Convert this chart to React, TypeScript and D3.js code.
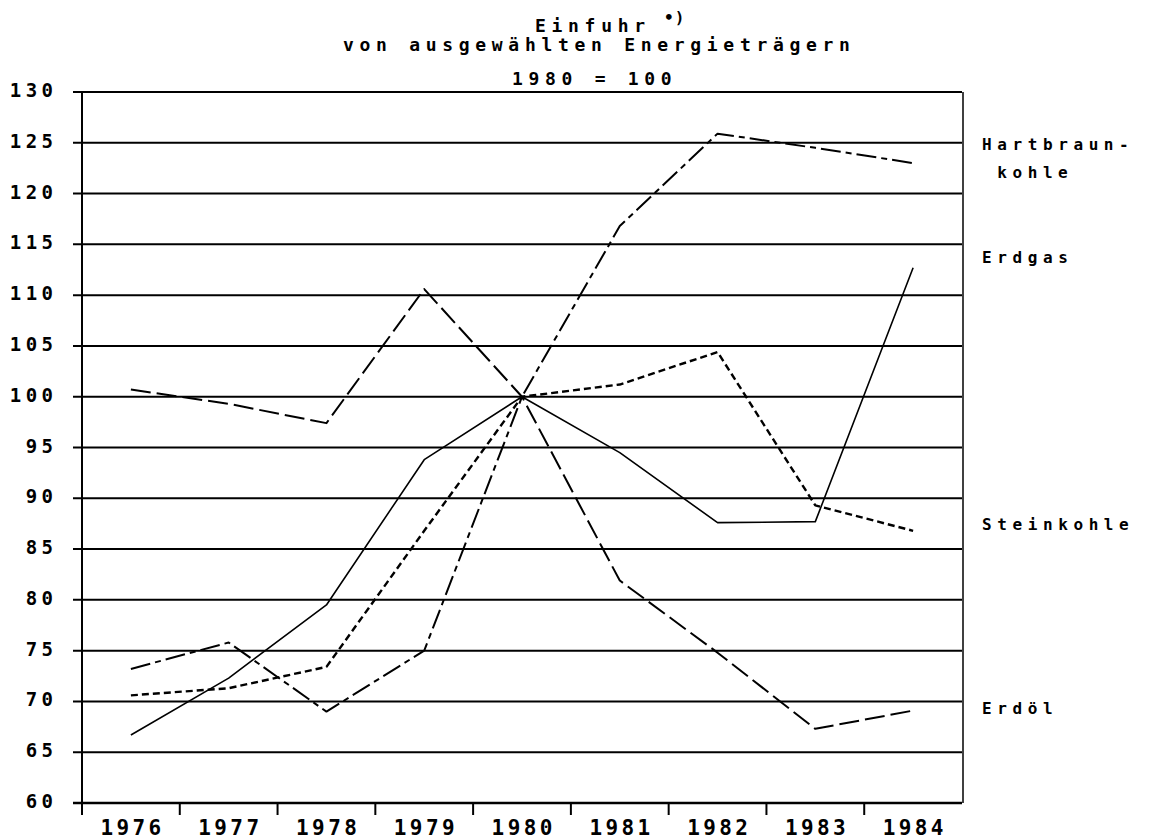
import React from "react";
import * as d3 from "d3";

// ---- data ----
const years = ["1976", "1977", "1978", "1979", "1980", "1981", "1982", "1983", "1984"];
const erdgas = [66.7, 72.3, 79.5, 93.8, 100, 94.5, 87.6, 87.7, 112.7];
const steinkohle = [70.6, 71.3, 73.4, 86.8, 100, 101.2, 104.4, 89.3, 86.8];
const erdoel = [100.7, 99.3, 97.4, 110.6, 100, 81.9, 74.8, 67.3, 69.1];
const hartbraunkohle = [73.2, 75.8, 69.0, 75.0, 100, 116.8, 125.9, 124.5, 123.0];
const yTicks = [60, 65, 70, 75, 80, 85, 90, 95, 100, 105, 110, 115, 120, 125, 130];
const titleLines = ["Einfuhr", "von ausgewählten Energieträgern", "1980 = 100"];
const footnoteMark = "•)";
// right-hand labels: text and the value level they sit at
const seriesLabels = [
  { text: "Hartbraun-", at: 124.3, indent: 0 },
  { text: "kohle", at: 121.5, indent: 1 },
  { text: "Erdgas", at: 113.2, indent: 0 },
  { text: "Steinkohle", at: 86.9, indent: 0 },
  { text: "Erdöl", at: 68.8, indent: 0 },
];

const series = [
  { name: "Erdgas", values: erdgas, dash: "none", width: 1.6 },
  { name: "Steinkohle", values: steinkohle, dash: "7,4", width: 2.4 },
  { name: "Erdöl", values: erdoel, dash: "20,6", width: 2 },
  { name: "Hartbraunkohle", values: hartbraunkohle, dash: "20,5,6,5", width: 2 },
];

const FONT = "'DejaVu Sans Mono', monospace";

export default function App() {
  const W = 1150;
  const H = 840;
  const left = 82;
  const right = 962;
  const top = 92;
  const bottom = 803;

  const x = d3.scalePoint<string>().domain(years).range([left, right]).padding(0.5);
  const y = d3.scaleLinear().domain([60, 130]).range([bottom, top]);
  const step = x.step();

  const line = d3
    .line<number>()
    .x((_, i) => x(years[i]) as number)
    .y((d) => y(d));

  const yLabelSpacing = 4.4;
  const xLabelSpacing = 3.4;
  const labelSpacing = 5.6;

  return (
    <svg
      width={W}
      height={H}
      style={{ position: "absolute", left: 0, top: 0, display: "block", background: "#fff" }}
    >
      <rect x={0} y={0} width={W} height={H} fill="#fff" />
      {/* title */}
      <g fontFamily={FONT} fontWeight="bold" fontSize={18} fill="#000" style={{ letterSpacing: "5.7px" }}>
        <text x={535} y={32}>{titleLines[0]}</text>
        <text x={664} y={23} fontSize={16} style={{ letterSpacing: "1px" }}>{footnoteMark}</text>
        <text x={343} y={51}>{titleLines[1]}</text>
        <text x={512} y={85}>{titleLines[2]}</text>
      </g>

      {/* gridlines and y ticks */}
      {yTicks.map((t) => (
        <line
          key={"g" + t}
          x1={left - 9}
          x2={right}
          y1={y(t)}
          y2={y(t)}
          stroke="#000"
          strokeWidth={t === 60 ? 2.6 : 2}
        />
      ))}
      {/* y axis */}
      <line x1={left} x2={left} y1={top} y2={bottom + 12} stroke="#000" strokeWidth={2} />
      {/* right border */}
      <line x1={right + 1} x2={right + 1} y1={top} y2={bottom} stroke="#000" strokeWidth={1.5} />
      {/* x ticks between years */}
      {years.slice(0, -1).map((yr) => (
        <line
          key={"xt" + yr}
          x1={(x(yr) as number) + step / 2}
          x2={(x(yr) as number) + step / 2}
          y1={bottom}
          y2={bottom + 12}
          stroke="#000"
          strokeWidth={2}
        />
      ))}

      {/* y labels */}
      <g fontFamily={FONT} fontWeight="bold" fontSize={19} fill="#000" style={{ letterSpacing: yLabelSpacing + "px" }}>
        {yTicks.map((t) => (
          <text key={"yl" + t} x={53 + yLabelSpacing} y={y(t) + 5} textAnchor="end">
            {t}
          </text>
        ))}
      </g>

      {/* x labels */}
      <g fontFamily={FONT} fontWeight="bold" fontSize={21} fill="#000" style={{ letterSpacing: xLabelSpacing + "px" }}>
        {years.map((yr) => (
          <text key={"xl" + yr} x={(x(yr) as number) + xLabelSpacing / 2} y={835} textAnchor="middle">
            {yr}
          </text>
        ))}
      </g>

      {/* series */}
      {series.map((s) => (
        <path
          key={s.name}
          d={line(s.values) || ""}
          fill="none"
          stroke="#000"
          strokeWidth={s.width}
          strokeDasharray={s.dash}
          strokeLinejoin="round"
        />
      ))}

      {/* series labels */}
      <g fontFamily={FONT} fontWeight="bold" fontSize={16} fill="#000" style={{ letterSpacing: labelSpacing + "px" }}>
        {seriesLabels.map((l) => (
          <text key={l.text} x={982 + l.indent * 15.2} y={y(l.at)}>
            {l.text}
          </text>
        ))}
      </g>
    </svg>
  );
}
